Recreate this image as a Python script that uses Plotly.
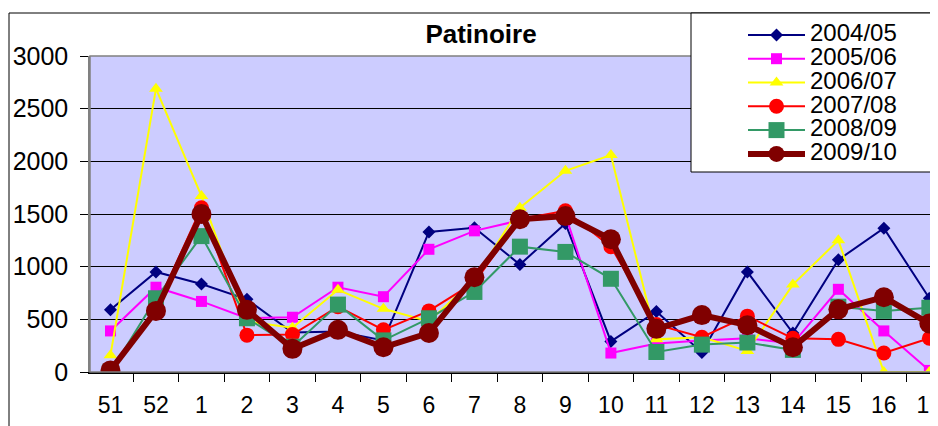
import plotly.graph_objects as go

weeks = ["51", "52", "1", "2", "3", "4", "5", "6", "7", "8", "9", "10",
         "11", "12", "13", "14", "15", "16", "17"]
s0405 = [590, 950, 835, 690, 375, 385, 300, 1330, 1370, 1020, 1410, 290, 575, 185, 950, 370, 1065, 1365, 700]
s0506 = [390, 805, 670, 510, 520, 805, 715, 1165, 1340, 1440, 1490, 180, 270, 300, 320, 270, 785, 390, 15]
s0607 = [160, 2690, 1670, 480, 420, 780, 600, 480, 880, 1560, 1910, 2060, 310, 330, 200, 830, 1250, 0, 0]
s0708 = [0, 610, 1560, 350, 355, 620, 400, 580, 850, 1450, 1530, 1190, 450, 330, 530, 320, 310, 180, 320]
s0809 = [0, 700, 1290, 510, 240, 640, 300, 510, 760, 1190, 1140, 885, 190, 260, 280, 210, 620, 580, 610]
s0910 = [15, 580, 1500, 590, 220, 400, 235, 370, 900, 1450, 1480, 1260, 410, 540, 445, 235, 595, 710, 460]
y_ticks = [0, 500, 1000, 1500, 2000, 2500, 3000]

series = [
    ("2004/05", s0405, "#000080", "diamond", 10, 2),
    ("2005/06", s0506, "#FF00FF", "square", 11, 2),
    ("2006/07", s0607, "#FFFF00", "triangle-up", 12, 2),
    ("2007/08", s0708, "#FF0000", "circle", 15, 2),
    ("2008/09", s0809, "#339966", "square", 16, 2),
    ("2009/10", s0910, "#800000", "circle", 20, 6),
]

# page body has an 8px margin; figure fills the rest of the 938x426 window
OFF = 8
W, H = 938 - OFF, 426 - OFF
L, T, B = 90 - OFF, 56 - OFF, 372 - OFF
PW, PH = W - L, B - T


def px(x):
    return (x - OFF - L) / PW


def py(y):
    return (B - (y - OFF)) / PH


FONT = "Liberation Sans, Arial, sans-serif"

fig = go.Figure()
for name, vals, col, sym, size, lw in series:
    fig.add_trace(go.Scatter(
        x=weeks, y=vals, mode="lines+markers",
        name='<span style="font-size:24px">' + name + '</span>',
        line=dict(color=col, width=lw),
        marker=dict(symbol=sym, size=size, color=col, line=dict(width=0)),
    ))

shapes = [
    # outer chart border
    dict(type="rect", xref="paper", yref="paper", x0=px(9), x1=px(1200), y0=py(13), y1=py(900),
         line=dict(color="black", width=1), fillcolor="rgba(0,0,0,0)", layer="below"),
    # plot area border
    dict(type="rect", xref="paper", yref="paper", x0=0, x1=1.2, y0=0, y1=1,
         line=dict(color="#808080", width=1.5), fillcolor="rgba(0,0,0,0)", layer="above"),
    # legend box
    dict(type="rect", xref="paper", yref="paper", x0=px(691), x1=px(1200), y0=py(172), y1=py(13),
         line=dict(color="black", width=1), fillcolor="white", layer="above"),
]

fig.update_layout(
    width=W, height=H,
    margin=dict(l=L, r=0, t=T, b=H - B, pad=0, autoexpand=False),
    paper_bgcolor="white",
    plot_bgcolor="#CCCCFF",
    font=dict(family=FONT, size=24, color="black"),
    title=dict(text="<b>Patinoire</b>", x=(481 - OFF) / W, xanchor="center", xref="container",
               y=1 - (34 - OFF) / H, yanchor="middle", yref="container",
               font=dict(family=FONT, size=26, color="black")),
    showlegend=True,
    legend=dict(x=px(743), xanchor="left", y=py(18), yanchor="top",
                bgcolor="rgba(0,0,0,0)", borderwidth=0,
                font=dict(family=FONT, size=16, color="black"),
                itemwidth=57, tracegroupgap=0),
    shapes=shapes,
    xaxis=dict(type="category", range=[-0.45, 18.19], showgrid=False,
               ticks="outside", ticklen=8, tickcolor="black", tickson="boundaries",
               showline=True, linecolor="black", linewidth=1.5,
               tickfont=dict(family=FONT, size=23), ticklabelstandoff=12, zeroline=False),
    yaxis=dict(range=[0, 3000], tickvals=y_ticks, showgrid=True, gridcolor="black", gridwidth=1,
               ticks="outside", ticklen=8, tickcolor="black",
               showline=True, linecolor="#808080", linewidth=1.5, zeroline=False,
               tickfont=dict(family=FONT, size=25), ticklabelstandoff=7),
)

fig.write_html("out.html")
